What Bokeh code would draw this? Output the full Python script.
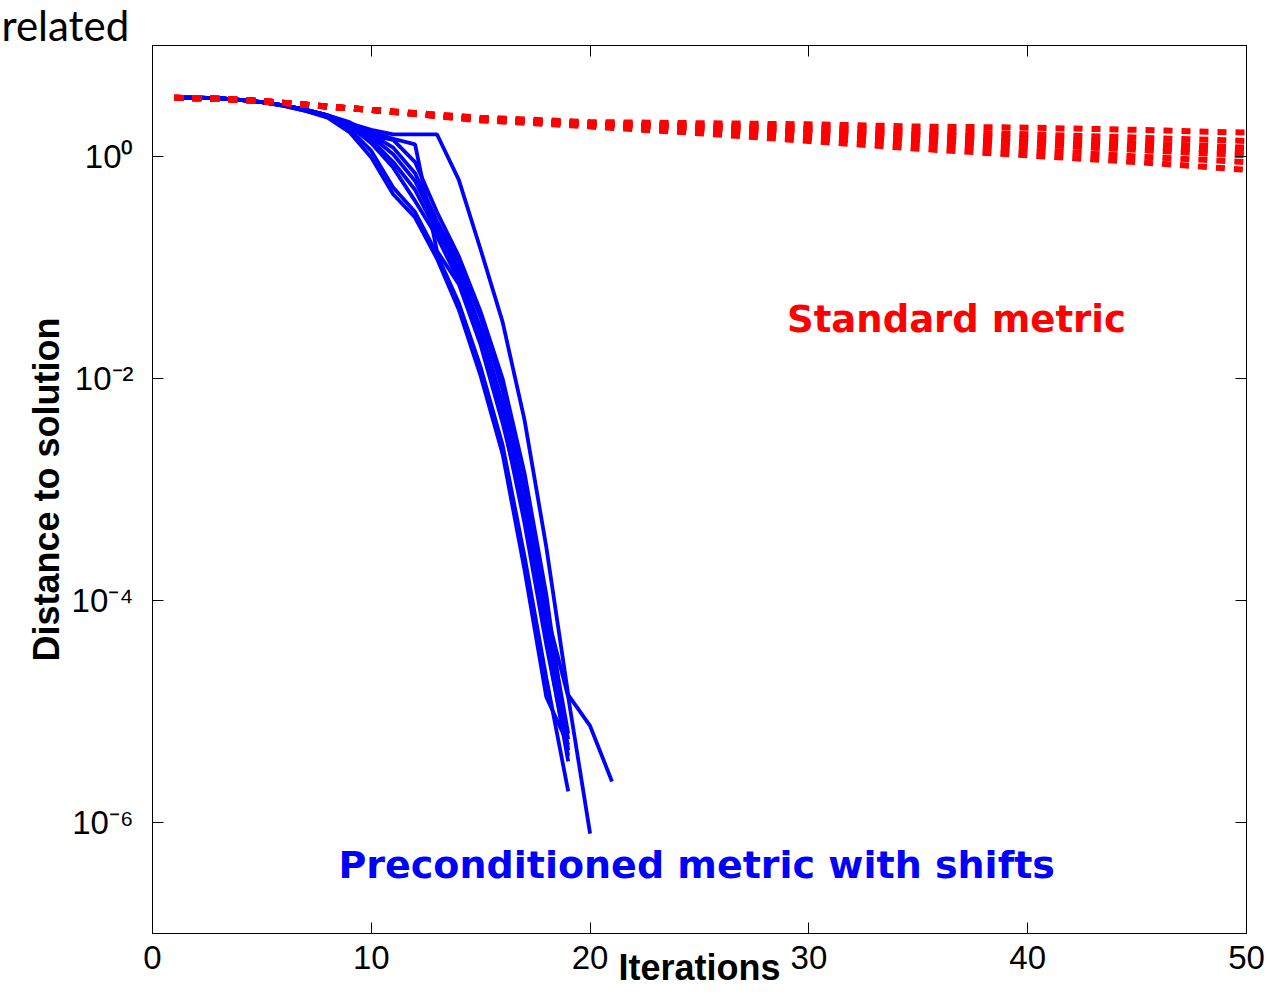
from bokeh.plotting import figure
from bokeh.models import Range1d, FixedTicker, LinearAxis, LogAxis, Label
from bokeh.embed import file_html
from bokeh.resources import INLINE

# ---------------- data (distance to solution, stored as log10 values) ----------------
red_iters = [1, 3, 5, 8, 10, 15, 20, 25, 30, 35, 40, 45, 50]
red_r1 = [0.53, 0.52, 0.50, 0.45, 0.42, 0.350, 0.310, 0.30, 0.29, 0.27, 0.26, 0.24, 0.215]
red_r2 = [0.53, 0.52, 0.50, 0.45, 0.42, 0.345, 0.300, 0.28, 0.26, 0.23, 0.20, 0.17, 0.140]
red_r3 = [0.53, 0.52, 0.50, 0.45, 0.42, 0.340, 0.300, 0.27, 0.24, 0.20, 0.16, 0.12, 0.080]
red_r4 = [0.53, 0.52, 0.50, 0.45, 0.42, 0.335, 0.290, 0.26, 0.22, 0.18, 0.13, 0.09, 0.045]
red_r5 = [0.53, 0.52, 0.50, 0.45, 0.42, 0.330, 0.285, 0.25, 0.21, 0.16, 0.11, 0.06, 0.010]
red_r6 = [0.53, 0.52, 0.50, 0.45, 0.42, 0.330, 0.280, 0.23, 0.17, 0.12, 0.06, 0.00, -0.050]
red_r7 = [0.53, 0.52, 0.50, 0.45, 0.42, 0.325, 0.270, 0.21, 0.14, 0.07, 0.01, -0.05, -0.120]
red_series = [red_r1, red_r2, red_r3, red_r4, red_r5, red_r6, red_r7]

blue_a = [0.53, 0.53, 0.525, 0.51, 0.49, 0.46, 0.42, 0.37, 0.30, 0.24, 0.20, 0.20, 0.20,
          -0.21, -0.84, -1.49, -2.37, -3.52, -4.85, -5.13, -5.63]
blue_b = [0.53, 0.53, 0.525, 0.51, 0.49, 0.46, 0.42, 0.37, 0.30, 0.22, 0.16, 0.11, -0.85,
          -1.15, -1.70, -2.40, -3.20, -4.10, -4.87, -6.10]
blue_c = [0.53, 0.53, 0.525, 0.51, 0.49, 0.455, 0.41, 0.35, 0.22, -0.01, -0.34, -0.55, -0.92,
          -1.38, -1.98, -2.68, -3.72, -4.87, -5.30]
blue_d = [0.53, 0.53, 0.525, 0.51, 0.49, 0.455, 0.41, 0.36, 0.25, 0.05, -0.28, -0.50, -0.88,
          -1.32, -1.90, -2.60, -3.60, -4.70, -5.72]
blue_e = [0.53, 0.53, 0.525, 0.51, 0.49, 0.46, 0.42, 0.37, 0.28, 0.12, -0.10, -0.40, -0.72,
          -1.12, -1.65, -2.35, -3.30, -4.40, -5.40]
blue_f = [0.53, 0.53, 0.525, 0.51, 0.49, 0.46, 0.42, 0.37, 0.30, 0.18, 0.02, -0.22, -0.62,
          -1.02, -1.55, -2.22, -3.15, -4.25, -5.25]
blue_g = [0.53, 0.53, 0.525, 0.51, 0.49, 0.46, 0.42, 0.37, 0.29, 0.15, -0.05, -0.30, -0.68,
          -1.08, -1.60, -2.28, -3.20, -4.35, -5.45]
blue_h = [0.53, 0.53, 0.525, 0.51, 0.49, 0.46, 0.42, 0.37, 0.31, 0.20, 0.08, -0.15, -0.58,
          -0.95, -1.45, -2.10, -3.00, -4.10, -5.20]
blue_i = [0.53, 0.53, 0.525, 0.51, 0.49, 0.46, 0.42, 0.37, 0.30, 0.19, 0.15, -0.05, -0.50,
          -0.90, -1.40, -2.00, -2.85, -3.95, -5.35]
blue_series = [blue_a, blue_b, blue_c, blue_d, blue_e, blue_f, blue_g, blue_h, blue_i]

x_ticks = [0, 10, 20, 30, 40, 50]
y_tick_values = [1e0, 1e-2, 1e-4, 1e-6]
y_tick_labels = ["10\u2070", "10\u207b\u00b2", "10\u207b\u2074", "10\u207b\u2076"]

title_text = "related"
x_label = "Iterations"
y_label = "Distance to solution"
red_text = "Standard metric"
blue_text = "Preconditioned metric with shifts"

RED = "#ff0000"
BLUE = "#0000ff"

# ---------------- figure ----------------
W, H = 1265, 990
p = figure(width=W, height=H, x_range=Range1d(0, 50), y_range=Range1d(1e-7, 1e1),
           y_axis_type="log", output_backend="svg", toolbar_location=None,
           min_border_left=152, min_border_right=19, min_border_top=45, min_border_bottom=57,
           background_fill_color="white", border_fill_color="white")
p.grid.visible = False
p.outline_line_color = "black"
p.outline_line_width = 1

p.title.text = title_text
p.title.align = "left"
p.title.offset = -151
p.title.standoff = -8
p.title.text_font = "Lato"
p.title.text_font_style = "normal"
p.title.text_font_size = "42px"
p.title.text_color = "black"

def style_axis(ax, show_labels):
    ax.major_tick_in = 11
    ax.major_tick_out = 0
    ax.minor_tick_in = 0
    ax.minor_tick_out = 0
    ax.axis_line_color = "black"
    ax.major_tick_line_color = "black"
    ax.major_tick_line_width = 1
    if show_labels:
        ax.major_label_text_font = "Liberation Sans"
        ax.major_label_text_font_size = "33px"
        ax.major_label_text_color = "black"
    else:
        ax.major_label_text_font_size = "0px"
        ax.major_label_text_color = None
        ax.major_label_standoff = 0

xb = p.xaxis[0]
xb.ticker = FixedTicker(ticks=x_ticks, minor_ticks=[])
style_axis(xb, True)
xb.major_label_standoff = 12
xb.axis_label = x_label
xb.axis_label_text_font = "Liberation Sans"
xb.axis_label_text_font_style = "bold"
xb.axis_label_text_font_size = "36px"
xb.axis_label_text_color = "black"
xb.axis_label_standoff = -25

yl = p.yaxis[0]
yl.ticker = FixedTicker(ticks=y_tick_values, minor_ticks=[])
style_axis(yl, True)
yl.major_label_standoff = 19
yl.major_label_overrides = dict(zip(y_tick_values, y_tick_labels))
yl.axis_label = y_label
yl.axis_label_text_font = "Liberation Sans"
yl.axis_label_text_font_style = "bold"
yl.axis_label_text_font_size = "36px"
yl.axis_label_text_color = "black"
yl.axis_label_standoff = 2

xt = LinearAxis(ticker=FixedTicker(ticks=x_ticks, minor_ticks=[]))
style_axis(xt, False)
p.add_layout(xt, "above")

yr = LogAxis(ticker=FixedTicker(ticks=y_tick_values, minor_ticks=[]))
style_axis(yr, False)
p.add_layout(yr, "right")

# ---------------- data lines ----------------
for s in blue_series:
    xs = list(range(1, len(s) + 1))
    ys = [10 ** v for v in s]
    p.line(xs, ys, line_color=BLUE, line_width=3.8)

for s in red_series:
    ys = [10 ** v for v in s]
    p.line(red_iters, ys, line_color=RED, line_width=6, line_dash="9 9")

# ---------------- in-plot texts ----------------
p.add_layout(Label(x=29.0, y=10 ** -1.47, text=red_text, text_align="left",
                   text_baseline="alphabetic", text_font="DejaVu Sans",
                   text_font_style="bold", text_font_size="37px", text_color=RED))

p.add_layout(Label(x=8.5, y=10 ** -6.38, text=blue_text, text_align="left",
                   text_baseline="alphabetic", text_font="DejaVu Sans",
                   text_font_style="bold", text_font_size="38px", text_color=BLUE))

open("out.html", "w").write(file_html(p, INLINE))
